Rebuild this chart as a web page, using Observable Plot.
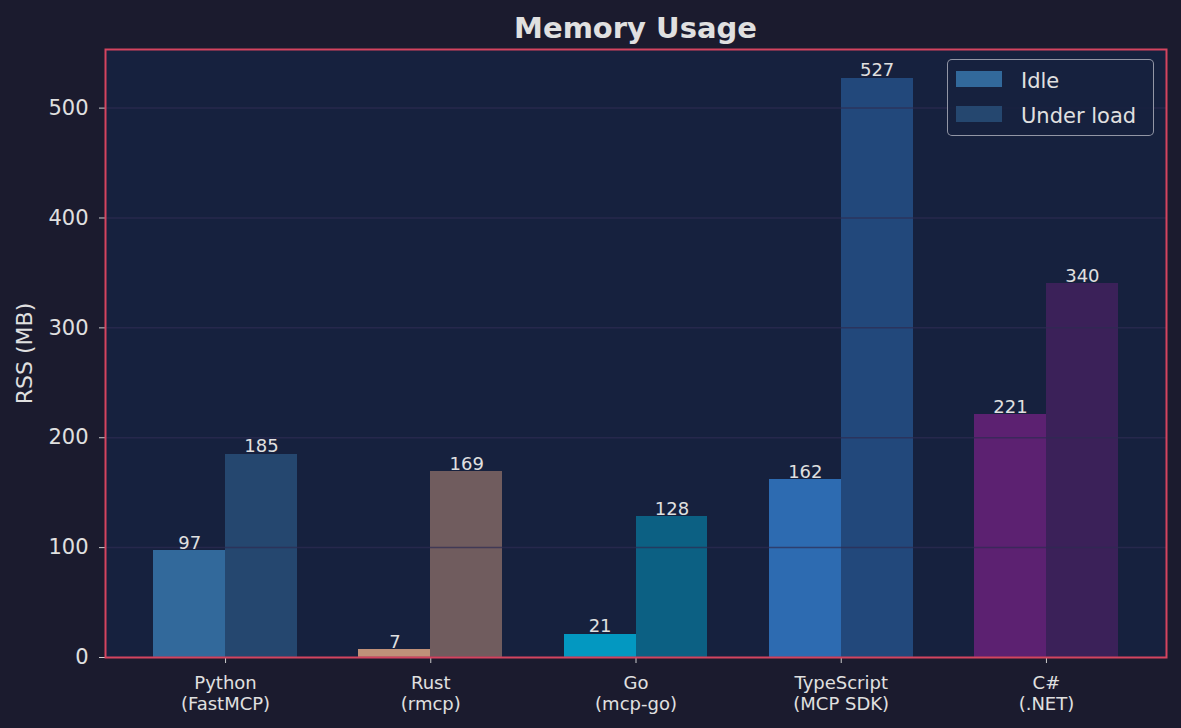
<!DOCTYPE html>
<html>
<head>
<meta charset="utf-8">
<script src="https://cdn.jsdelivr.net/npm/d3@7"></script>
<script src="https://cdn.jsdelivr.net/npm/@observablehq/plot@0.6"></script>
<style>
  html, body { margin: 0; padding: 0; background: #1b1b2e; }
  #wrap { position: relative; width: 1181px; height: 728px; background: #1b1b2e; overflow: hidden; font-family: "DejaVu Sans", sans-serif; }
  #title { position: absolute; left: 105px; width: 1061px; top: 14px; text-align: center; font-size: 29px; line-height: 29px; font-weight: bold; color: #e0e0e0; }
  #chart { position: absolute; left: 0; top: 0; }
  #legend { position: absolute; left: 947px; top: 59px; width: 205px; height: 75px; border: 1.5px solid rgba(190,190,200,0.75); border-radius: 5px; background: rgba(22,33,62,0.85); }
  .sw { position: absolute; left: 8px; width: 46px; height: 16px; }
  .lt { position: absolute; left: 73px; font-size: 21px; line-height: 21px; color: #e0e0e0; white-space: nowrap; }
</style>
</head>
<body>
<div id="wrap">
  <div id="chart"></div>
  <div id="title">Memory Usage</div>
  <div id="legend"></div>
</div>
<script>
// ---- data ----
const categories = ["Python\n(FastMCP)", "Rust\n(rmcp)", "Go\n(mcp-go)", "TypeScript\n(MCP SDK)", "C#\n(.NET)"];
const idle = [97, 7, 21, 162, 221];
const underLoad = [185, 169, 128, 527, 340];
const langColors = ["#3776AB", "#DEA584", "#00ADD8", "#3178C6", "#68217A"];
const series = ["Idle", "Under load"];
const seriesOpacity = [0.85, 0.45];
const yTicks = [0, 100, 200, 300, 400, 500];
const yLabel = "RSS (MB)";

// ---- build rows ----
const barW = 0.35;
const rows = [];
categories.forEach((c, i) => {
  [idle, underLoad].forEach((vals, s) => {
    rows.push({
      i, cat: c, series: series[s], value: vals[i],
      x1: i + (s - 1) * barW, x2: i + s * barW, xm: i + (s - 0.5) * barW,
      color: langColors[i], op: seriesOpacity[s]
    });
  });
});
const n = categories.length;
const xPad = (n - 1 + 2 * barW) * 0.05;
const yMax = d3.max(underLoad.concat(idle)) * 1.05;
const textColor = "#e0e0e0";

const plot = Plot.plot({
  width: 1181,
  height: 728,
  marginTop: 49,
  marginBottom: 71,
  marginLeft: 105,
  marginRight: 15,
  style: { background: "transparent", fontFamily: "DejaVu Sans, sans-serif", color: textColor },
  x: { type: "linear", domain: [-barW - xPad, n - 1 + barW + xPad] },
  y: { domain: [0, yMax] },
  marks: [
    Plot.frame({ fill: "#16213e" }),
    Plot.rectY(rows, { x1: "x1", x2: "x2", y1: 0, y2: "value", fill: "color", fillOpacity: "op", shapeRendering: "crispEdges" }),
    Plot.gridY(yTicks, { stroke: "#2e2c52", strokeOpacity: 0.7, strokeWidth: 1.5 }),
    Plot.text(rows, { x: "xm", y: "value", text: d => String(d.value), dy: -2, lineAnchor: "bottom", fill: textColor, fontSize: 18 }),
    Plot.axisY({ ticks: yTicks, tickSize: 6, tickPadding: 11, fontSize: 21, label: null, stroke: "#cccccc", fill: textColor }),
    Plot.axisX({ ticks: d3.range(n), tickFormat: i => categories[i], tickSize: 6, tickPadding: 10, fontSize: 18, lineHeight: 1.2, label: null, stroke: "#cccccc", fill: textColor }),
    Plot.text([yLabel], { frameAnchor: "left", textAnchor: "middle", rotate: -90, dx: -81, fontSize: 22, fill: textColor }),
    Plot.frame({ stroke: "#d4445f", strokeWidth: 2, strokeOpacity: 1 })
  ]
});
document.getElementById("chart").appendChild(plot);

// ---- legend ----
const legend = document.getElementById("legend");
series.forEach((s, k) => {
  const sw = document.createElement("div");
  sw.className = "sw";
  sw.style.top = (11 + k * 35) + "px";
  sw.style.background = langColors[0];
  sw.style.opacity = seriesOpacity[k];
  legend.appendChild(sw);
  const t = document.createElement("div");
  t.className = "lt";
  t.style.top = (11 + k * 35) + "px";
  t.textContent = s;
  legend.appendChild(t);
});
</script>
</body>
</html>
